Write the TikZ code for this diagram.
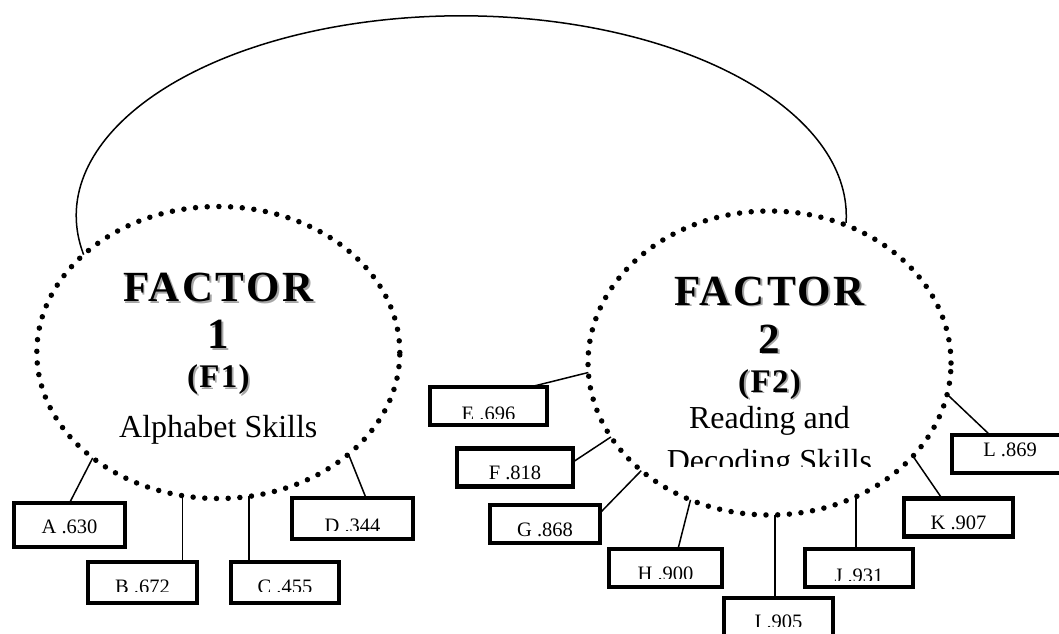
\documentclass[tikz,border=0pt]{standalone}
\usepackage{fontspec}
\usepackage{trimclip}
\usepackage{tikz}
\usetikzlibrary{positioning}
\usetikzlibrary{shapes.geometric}
\setmainfont{Liberation Serif}
\definecolor{shadowgray}{gray}{0.65}
\newcommand{\shad}[1]{\makebox[0pt][l]{\hspace{1.8pt}\raisebox{-1.8pt}{\textcolor{shadowgray}{#1}}}#1}
\newcommand{\cliptext}[2][2pt]{\clipbox{0pt #1 0pt 0pt}{\raisebox{0pt}[\height][0pt]{#2}}}
\newcommand{\bigbf}[0]{\fontsize{43}{38}\selectfont\bfseries\addfontfeature{LetterSpace=6}}
\newcommand{\midbf}[0]{\fontsize{33}{38}\selectfont\bfseries\addfontfeature{LetterSpace=4}}

\begin{document}
\begin{tikzpicture}[x=1pt, y=1pt,
    factor/.style={ellipse, draw, line width=5.5pt, dash pattern=on 0pt off 11.7pt, line cap=round,
      inner sep=0pt, outer sep=0pt, align=center, font=\fontsize{32}{38}\selectfont},
    item/.style={draw, line width=4.5pt, minimum width=110pt, minimum height=38pt, inner sep=2pt,
      outer sep=0pt, text height=24pt, text depth=0pt, font=\fontsize{20.5}{24}\selectfont},
    link/.style={line width=1.5pt}]
      \useasboundingbox (0,0) rectangle (1059,-633);
      \node(f1) [factor, minimum width=363pt, minimum height=292pt] at (218.3,-352.5)
        {\rule{0pt}{41pt}{\bigbf\shad{FACTOR}}\\[9pt] {\bigbf\shad{1}}\\[1pt] {\midbf\shad{(F1)}}\\[12pt] Alphabet Skills};
      \node(f2) [factor, minimum width=363pt, minimum height=304pt] at (769.5,-363)
        {\rule{0pt}{45pt}{\bigbf\shad{FACTOR}}\\[10pt] {\bigbf\shad{2}}\\[1pt] {\midbf\shad{(F2)}}\\[-2pt] Reading and\\ \cliptext[5pt]{Decoding Skills}};

      \node(a) [item, minimum width=111pt, minimum height=44pt, text height=16pt] at (69.5,-525) {A .630};
      \node(b) [item, minimum width=109pt, minimum height=41pt, text height=18pt] at (142.5,-582.5) {\cliptext{B .672}};
      \node(c) [item, minimum width=108pt, minimum height=41pt, text height=18pt, right=34pt of b] {\cliptext{C .455}};
      \node(d) [item, minimum width=121pt, minimum height=41pt, text height=23pt] at (352.5,-518.5) {\cliptext{D .344}};
      \node(e) [item, minimum width=117pt] at (488.5,-406) {\cliptext{E .696}};
      \node(f) [item, minimum width=116pt] at (515,-467.5) {F .818};
      \node(g) [item] at (545,-524) {G .868};
      \node(h) [item, minimum width=113pt, text height=21pt] at (665.5,-568) {\cliptext{H .900}};
      \node(i) [item, minimum width=109pt, text height=18pt] at (778.5,-617) {\cliptext{I .905}};
      \node(j) [item, minimum width=108pt, right=83pt of h] {\cliptext{J .931}};
      \node(k) [item, minimum width=109pt] at (958.5,-517.5) {K .907};
      \node(l) [item, minimum width=116pt, text height=5pt] at (1010,-454) {L .869};

      \draw[link] (f1.144) arc[start angle=191.2, end angle=-2, x radius=385pt, y radius=200pt];
      \draw[link] (f1.220) -- (a.north);
      \draw[link] (f1.256) -- (f1.256 |- b.north);
      \draw[link] (f1.282) -- (f1.282 |- c.north);
      \draw[link] (f1.322) -- ([xshift=13.5pt]d.north);
      \draw[link] (f2.183) -- ([xshift=41.5pt]e.north);
      \draw[link] (f2.205) -- ([yshift=5.5pt]f.east);
      \draw[link] (f2.220) -- ([yshift=11pt]g.east);
      \draw[link] (f2.240) -- ([xshift=12.5pt]h.north);
      \draw[link] (f2.272) -- (f2.272 |- i.north);
      \draw[link] (f2.303) -- (f2.303 |- j.north);
      \draw[link] (f2.327) -- ([xshift=-16.5pt]k.north);
      \draw[link] (f2.350) -- ([xshift=-20pt]l.north);
    \end{tikzpicture}
\end{document}
